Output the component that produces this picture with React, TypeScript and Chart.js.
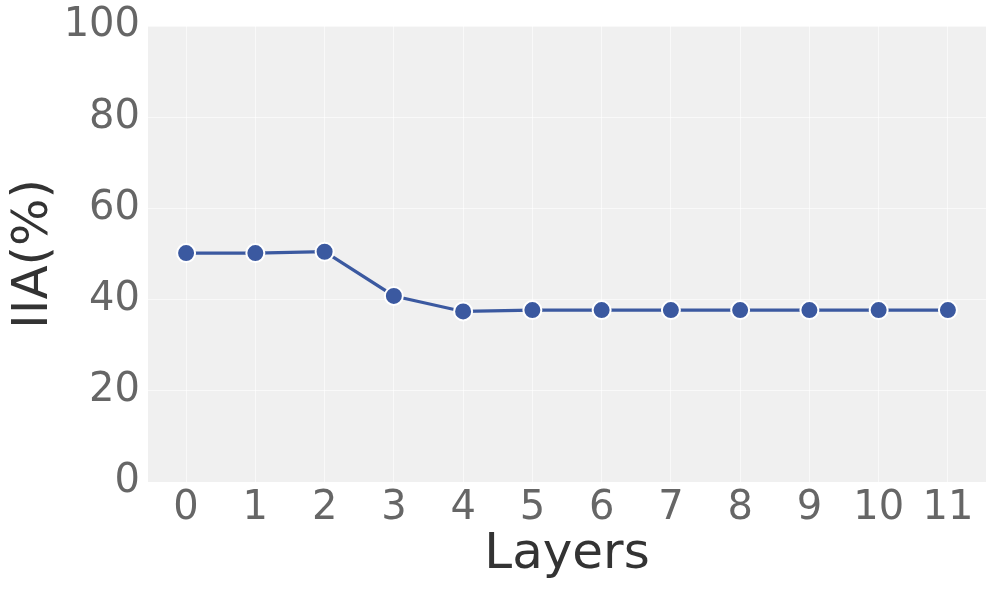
import React, { useEffect, useRef } from "react";
import { Chart, registerables } from "chart.js";
Chart.register(...registerables);

const layers = [0, 1, 2, 3, 4, 5, 6, 7, 8, 9, 10, 11];
const iia = [50.2, 50.2, 50.5, 40.8, 37.4, 37.7, 37.7, 37.7, 37.7, 37.7, 37.7, 37.7];
const yTicks = [0, 20, 40, 60, 80, 100];

const bgPlugin = {
  id: "plotBg",
  beforeDraw(chart: any) {
    const { ctx, chartArea } = chart;
    ctx.save();
    ctx.fillStyle = "#f0f0f0";
    ctx.fillRect(chartArea.left, chartArea.top, chartArea.right - chartArea.left, chartArea.bottom - chartArea.top);
    ctx.restore();
  },
};

export default function App() {
  const ref = useRef<HTMLCanvasElement>(null);
  useEffect(() => {
    document.body.style.margin = "0";
    const chart = new Chart(ref.current!, {
      type: "line",
      data: {
        datasets: [
          {
            data: layers.map((l, i) => ({ x: l, y: iia[i] })),
            borderColor: "rgb(59,89,160)",
            backgroundColor: "rgb(59,89,160)",
            borderWidth: 3.2,
            pointRadius: 9,
            pointBorderColor: "#ffffff",
            pointBorderWidth: 2,
            pointBackgroundColor: "rgb(59,89,160)",
            tension: 0,
          },
        ],
      },
      options: {
        animation: false,
        responsive: false,
        maintainAspectRatio: false,
        layout: { padding: { top: 26, right: 10, left: 0, bottom: 0 } },
        plugins: { legend: { display: false }, tooltip: { enabled: false } },
        scales: {
          x: {
            type: "linear",
            min: -0.55,
            max: 11.55,
            afterBuildTicks(scale: any) {
              scale.ticks = layers.map((v) => ({ value: v }));
            },
            afterFit(scale: any) {
              scale.height = 109;
              scale.paddingLeft = 0;
              scale.paddingRight = 0;
            },
            grid: { color: "rgba(255,255,255,0.6)", lineWidth: 1, drawTicks: false },
            border: { display: false },
            ticks: {
              color: "#666666",
              font: { family: "DejaVu Sans", size: 40 },
              padding: 3,
              maxRotation: 0,
              autoSkip: false,
              callback: (v: any) => String(v),
            },
            title: {
              display: true,
              text: "Layers",
              color: "#333333",
              font: { family: "DejaVu Sans", size: 50 },
              padding: { top: 0, bottom: 6 },
            },
          },
          y: {
            min: 0,
            max: 100,
            afterBuildTicks(scale: any) {
              scale.ticks = yTicks.map((v) => ({ value: v }));
            },
            afterFit(scale: any) {
              scale.width = 148;
              scale.paddingTop = 0;
              scale.paddingBottom = 0;
            },
            grid: { color: "rgba(255,255,255,0.6)", lineWidth: 1, drawTicks: false },
            border: { display: false },
            ticks: {
              color: "#666666",
              font: { family: "DejaVu Sans", size: 40 },
              padding: 8,
            },
            title: {
              display: true,
              text: "IIA(%)",
              color: "#333333",
              font: { family: "DejaVu Sans", size: 50 },
              padding: { top: 4, bottom: 0 },
            },
          },
        },
      },
      plugins: [bgPlugin],
    } as any);
    return () => chart.destroy();
  }, []);
  return (
    <div style={{ width: 997, height: 591 }}>
      <canvas ref={ref} width={997} height={591} style={{ width: 997, height: 591 }} />
    </div>
  );
}
